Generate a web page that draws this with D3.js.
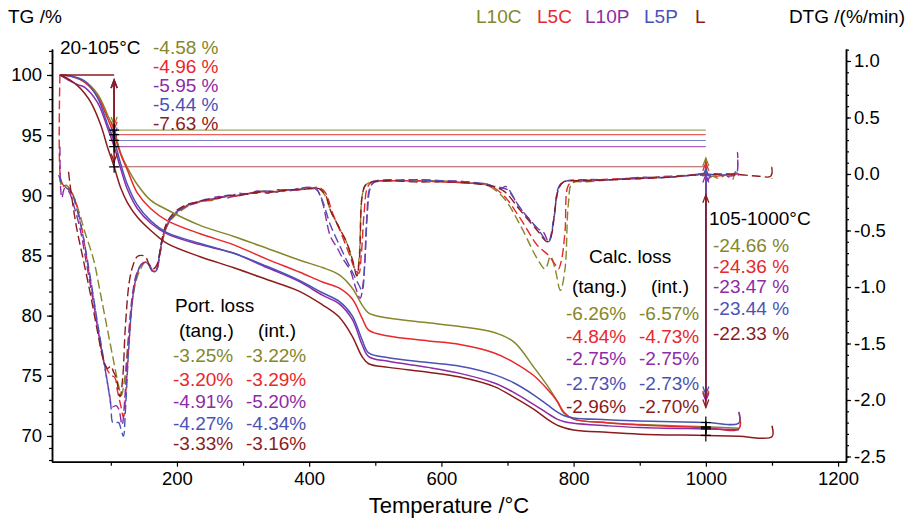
<!DOCTYPE html>
<html>
<head>
<meta charset="utf-8">
<script src="https://cdn.jsdelivr.net/npm/d3@7"></script>
<style>
  body { margin: 0; background: #fff; }
  svg { display: block; font-family: "Liberation Sans", Arial, sans-serif; }
</style>
</head>
<body>
<svg id="chart" width="918" height="521"></svg>
<script>
const series = ["L10C", "L5C", "L10P", "L5P", "L"];
const colors = ["#86862a", "#e8282b", "#8e2ba6", "#4b52b5", "#8b1c1c"];

// TG curves, [temperature, mass %]
const tgL10C = [[23,100],[40,99.9],[60,99.5],[80,98.4],[95,96.7],[105,95.42],[115,93.5],[125,92.3],[140,90.9],[160,89.6],[185,88.8],[235,87.5],[285,86.6],[336,85.6],[386,84.6],[420,84.0],[445,83.4],[465,82.3],[480,80.9],[490,80.2],[520,79.8],[580,79.4],[628,79.1],[680,78.6],[710,77.8],[740,75.7],[760,74.2],[775,72.9],[785,71.9],[800,71.4],[850,71.1],[900,70.95],[1000,70.76],[1050,70.65]];
const tgL5C = [[23,100],[40,99.9],[60,99.4],[80,98.2],[95,96.4],[105,95.04],[115,93.4],[125,92.1],[140,90.2],[160,88.9],[185,87.9],[235,86.8],[285,85.9],[336,84.7],[386,83.6],[420,82.8],[445,82.3],[465,81.4],[480,79.8],[490,78.8],[520,78.3],[580,77.9],[628,77.6],[680,76.9],[710,76.1],[740,75.0],[760,73.9],[775,72.9],[785,72.0],[800,71.4],[850,71.1],[900,70.9],[1000,70.68],[1050,70.6],[1050,72.0]];
const tgL10P = [[23,100],[35,99.6],[50,99.2],[60,99.0],[80,97.7],[95,95.6],[105,94.05],[115,92.2],[125,90.5],[140,88.9],[160,87.7],[185,86.8],[235,85.9],[285,85.2],[336,84.0],[386,82.8],[420,81.7],[445,81.0],[465,79.7],[480,77.6],[490,76.6],[520,76.2],[580,75.7],[628,75.2],[680,74.4],[710,73.6],[740,72.6],[760,71.9],[775,71.4],[785,71.2],[800,71.05],[850,70.85],[900,70.7],[1000,70.58],[1050,70.52]];
const tgL5P = [[23,100],[40,99.9],[60,99.5],[80,98.1],[95,95.9],[105,94.56],[115,92.6],[125,90.9],[140,89.2],[160,87.9],[185,86.9],[235,86.0],[285,85.2],[336,84.1],[386,82.9],[420,81.9],[445,81.2],[465,80.0],[480,78.0],[490,76.9],[520,76.5],[580,76.1],[628,75.8],[680,75.1],[710,74.4],[740,73.4],[760,72.6],[775,72.0],[785,71.7],[800,71.5],[850,71.35],[900,71.25],[1000,71.12],[1050,71.07],[1050,71.97]];
const tgL = [[23,100],[35,99.7],[50,99.1],[60,98.5],[70,97.7],[85,95.8],[95,94.0],[105,92.37],[115,90.6],[125,89.4],[140,88.2],[160,87.1],[185,86.0],[235,84.9],[285,84.0],[336,83.0],[386,82.0],[420,80.9],[445,79.9],[465,78.3],[480,76.6],[490,76.0],[520,75.7],[580,75.3],[628,74.9],[680,74.1],[710,73.2],[740,72.2],[760,71.4],[775,70.9],[785,70.7],[800,70.5],[850,70.3],[900,70.15],[1000,70.04],[1050,69.97],[1100,69.93],[1100,70.85]];

// DTG curves, [temperature, %/min]
const dtgL10C = [[23,-0.02],[26,-0.12],[32,-0.1],[40,-0.15],[50,-0.3],[60,-0.5],[74,-0.76],[84,-1.05],[94,-1.35],[104,-1.65],[112,-1.88],[116,-1.96],[120,-1.85],[126,-1.5],[132,-1.15],[138,-0.95],[145,-0.84],[152,-0.78],[157,-0.8],[163,-0.86],[168,-0.86],[174,-0.72],[180,-0.55],[186,-0.45],[195,-0.38],[210,-0.31],[225,-0.26],[240,-0.24],[255,-0.23],[270,-0.2],[285,-0.2],[300,-0.18],[315,-0.17],[330,-0.15],[345,-0.16],[360,-0.14],[375,-0.14],[390,-0.13],[405,-0.13],[415,-0.13],[425,-0.2],[432,-0.32],[445,-0.47],[457,-0.61],[466,-0.78],[472,-0.9],[476,-0.7],[480,-0.2],[485,-0.1],[495,-0.07],[520,-0.06],[560,-0.06],[600,-0.06],[640,-0.08],[669,-0.1],[694,-0.21],[719,-0.45],[745,-0.75],[757,-0.84],[765,-0.73],[772,-0.84],[780,-1.03],[787,-0.84],[792,-0.27],[798,-0.08],[820,-0.07],[860,-0.05],[900,-0.04],[940,-0.02],[980,-0.01],[998,0.0],[1000,0.12],[1002,-0.05],[1010,-0.02],[1020,-0.04],[1030,-0.01],[1040,-0.05],[1045,0.02],[1050,0.0]];
const dtgL5C = [[23,0.88],[24,-0.04],[28,-0.1],[35,-0.12],[45,-0.22],[55,-0.45],[65,-0.8],[75,-1.15],[84,-1.5],[92,-1.7],[100,-1.78],[106,-1.8],[110,-1.92],[115,-2.05],[119,-2.15],[123,-1.9],[128,-1.45],[134,-1.05],[140,-0.88],[147,-0.8],[153,-0.78],[158,-0.8],[164,-0.86],[169,-0.85],[175,-0.68],[182,-0.5],[190,-0.4],[200,-0.34],[215,-0.28],[230,-0.25],[250,-0.23],[265,-0.21],[280,-0.2],[295,-0.19],[310,-0.17],[325,-0.16],[340,-0.15],[355,-0.16],[370,-0.14],[385,-0.14],[400,-0.13],[415,-0.12],[425,-0.17],[435,-0.34],[448,-0.52],[460,-0.7],[470,-0.85],[475,-0.88],[479,-0.7],[483,-0.35],[488,-0.12],[495,-0.07],[520,-0.06],[560,-0.06],[600,-0.07],[640,-0.08],[669,-0.09],[694,-0.19],[719,-0.39],[745,-0.63],[762,-0.72],[772,-0.8],[777,-0.84],[782,-0.75],[787,-0.51],[792,-0.1],[800,-0.07],[840,-0.05],[880,-0.04],[920,-0.03],[960,-0.02],[1000,0.0],[1010,-0.02],[1030,-0.01],[1048,0.0]];
const dtgL10P = [[23,0.24],[24,-0.12],[26,-0.21],[30,-0.13],[36,-0.15],[44,-0.28],[54,-0.5],[64,-0.82],[74,-1.15],[84,-1.5],[92,-1.75],[98,-1.95],[102,-2.06],[108,-2.05],[112,-2.08],[117,-2.22],[121,-2.0],[126,-1.5],[132,-1.1],[138,-0.9],[146,-0.8],[152,-0.78],[157,-0.8],[163,-0.86],[168,-0.86],[174,-0.7],[180,-0.52],[188,-0.42],[198,-0.35],[212,-0.29],[228,-0.26],[245,-0.23],[262,-0.2],[278,-0.21],[292,-0.17],[308,-0.18],[322,-0.15],[338,-0.17],[352,-0.14],[368,-0.15],[382,-0.13],[398,-0.12],[410,-0.13],[419,-0.23],[432,-0.55],[442,-0.65],[452,-0.76],[462,-0.85],[470,-1.0],[477,-1.1],[482,-0.95],[487,-0.4],[491,-0.14],[497,-0.08],[520,-0.06],[560,-0.05],[600,-0.06],[640,-0.07],[669,-0.1],[690,-0.12],[700,-0.14],[719,-0.3],[745,-0.48],[755,-0.52],[762,-0.6],[770,-0.4],[777,-0.13],[785,-0.07],[820,-0.06],[860,-0.05],[900,-0.04],[940,-0.03],[980,-0.01],[1000,0.0],[1002,-0.06],[1010,0.0],[1030,-0.02],[1046,0.0],[1048,0.19],[1049,-0.01],[1050,0.0]];
const dtgL5P = [[21,-0.01],[26,-0.08],[32,-0.12],[40,-0.16],[48,-0.3],[58,-0.55],[68,-0.88],[78,-1.25],[88,-1.6],[95,-1.85],[100,-2.05],[103,-2.2],[108,-2.2],[112,-2.2],[115,-2.25],[119,-2.32],[122,-2.1],[127,-1.55],[133,-1.1],[139,-0.9],[146,-0.8],[152,-0.78],[157,-0.8],[163,-0.86],[168,-0.86],[174,-0.7],[180,-0.52],[188,-0.42],[198,-0.34],[214,-0.28],[230,-0.25],[246,-0.22],[260,-0.22],[275,-0.19],[290,-0.19],[305,-0.17],[320,-0.17],[335,-0.15],[350,-0.16],[365,-0.14],[380,-0.14],[395,-0.12],[410,-0.13],[419,-0.22],[432,-0.45],[445,-0.62],[458,-0.78],[468,-0.9],[475,-0.98],[480,-1.03],[484,-0.8],[488,-0.35],[492,-0.13],[498,-0.07],[520,-0.05],[540,-0.06],[560,-0.05],[600,-0.06],[640,-0.07],[669,-0.09],[690,-0.13],[697,-0.11],[719,-0.3],[745,-0.48],[762,-0.6],[770,-0.4],[777,-0.12],[785,-0.07],[820,-0.05],[860,-0.05],[900,-0.03],[940,-0.03],[980,-0.01],[1000,0.0],[1020,-0.01],[1048,0.01]];
const dtgL = [[36,0.02],[38,-0.08],[42,-0.25],[48,-0.47],[58,-0.75],[69,-1.06],[80,-1.4],[89,-1.65],[95,-1.72],[100,-1.7],[104,-1.75],[108,-1.8],[114,-1.97],[118,-1.8],[122,-1.35],[128,-0.95],[134,-0.8],[140,-0.73],[146,-0.72],[152,-0.73],[158,-0.8],[164,-0.84],[170,-0.8],[176,-0.62],[182,-0.47],[190,-0.38],[200,-0.32],[215,-0.27],[230,-0.25],[250,-0.22],[265,-0.21],[280,-0.19],[295,-0.19],[310,-0.17],[325,-0.16],[340,-0.16],[355,-0.15],[370,-0.14],[385,-0.14],[400,-0.13],[415,-0.13],[425,-0.19],[432,-0.32],[445,-0.47],[457,-0.61],[466,-0.77],[472,-0.9],[476,-0.75],[480,-0.2],[485,-0.1],[495,-0.07],[520,-0.06],[560,-0.07],[600,-0.07],[640,-0.08],[669,-0.1],[694,-0.15],[719,-0.32],[745,-0.5],[760,-0.6],[766,-0.55],[772,-0.3],[778,-0.12],[785,-0.07],[820,-0.06],[860,-0.05],[900,-0.04],[940,-0.03],[980,-0.01],[1000,-0.01],[1020,0.0],[1040,0.0],[1060,-0.01],[1080,-0.02],[1098,-0.02],[1100,0.06],[1100,-0.04]];

const tgData = [tgL10C, tgL5C, tgL10P, tgL5P, tgL];
const dtgData = [dtgL10C, dtgL5C, dtgL10P, dtgL5P, dtgL];

// step losses
const loss20to105 = [-4.58, -4.96, -5.95, -5.44, -7.63];
const loss105to1000 = [-24.66, -24.36, -23.47, -23.44, -22.33];
const portTang = ["-3.25%", "-3.20%", "-4.91%", "-4.27%", "-3.33%"];
const portInt = ["-3.22%", "-3.29%", "-5.20%", "-4.34%", "-3.16%"];
const calcTang = ["-6.26%", "-4.84%", "-2.75%", "-2.73%", "-2.96%"];
const calcInt = ["-6.57%", "-4.73%", "-2.75%", "-2.73%", "-2.70%"];

const tgMajor = [70, 75, 80, 85, 90, 95, 100];
const dtgMajor = [-2.5, -2.0, -1.5, -1.0, -0.5, 0.0, 0.5, 1.0];
const tempMajor = [200, 400, 600, 800, 1000, 1200];
const tempMinor = [100, 300, 500, 700, 900, 1100];

const W = 918, H = 521;
const margin = { top: 49, right: 72, bottom: 59.3, left: 52 };
const svg = d3.select("#chart");

const x = d3.scaleLinear().domain([11, 1212]).range([margin.left, W - margin.right]);
const yTG = d3.scaleLinear().domain([67.86, 102.16]).range([H - margin.bottom, margin.top]);
const yDTG = d3.scaleLinear().domain([-2.546, 1.106]).range([H - margin.bottom, margin.top]);

const fmtDtg = v => d3.format(".1f")(v).replace("\u2212", "-");

function styleAxis(g, size) {
  g.attr("font-family", null).attr("font-size", null);
  g.selectAll("text").style("font-size", size + "px").attr("fill", "#000");
  g.selectAll("line").attr("stroke", "#000").attr("stroke-width", 1.2);
  g.select(".domain").attr("stroke", "#000").attr("stroke-width", 1.5);
}

// minor ticks first, then the major ones with labels
svg.append("g").attr("transform", `translate(${margin.left},0)`)
  .call(d3.axisLeft(yTG).tickValues(d3.range(68, 103)).tickSize(3).tickSizeOuter(0).tickFormat(""))
  .call(g => styleAxis(g, 18.5));
svg.append("g").attr("transform", `translate(${margin.left},0)`)
  .call(d3.axisLeft(yTG).tickValues(tgMajor).tickSize(5).tickSizeOuter(0).tickPadding(5))
  .call(g => styleAxis(g, 18.5));

svg.append("g").attr("transform", `translate(${W - margin.right},0)`)
  .call(d3.axisRight(yDTG).tickValues(d3.range(-25, 12).map(d => d / 10)).tickSize(3).tickSizeOuter(0).tickFormat(""))
  .call(g => styleAxis(g, 18.5));
svg.append("g").attr("transform", `translate(${W - margin.right},0)`)
  .call(d3.axisRight(yDTG).tickValues(dtgMajor).tickSize(5).tickSizeOuter(0).tickPadding(3).tickFormat(fmtDtg))
  .call(g => styleAxis(g, 18.5));

svg.append("g").attr("transform", `translate(0,${H - margin.bottom})`)
  .call(d3.axisBottom(x).tickValues(tempMinor).tickSize(4).tickSizeOuter(0).tickFormat(""))
  .call(g => styleAxis(g, 18.5));
svg.append("g").attr("transform", `translate(0,${H - margin.bottom})`)
  .call(d3.axisBottom(x).tickValues(tempMajor).tickSize(5).tickSizeOuter(0).tickPadding(5).tickFormat(d3.format("d")))
  .call(g => styleAxis(g, 18.5));

// titles
svg.append("text").attr("x", 449).attr("y", 513).attr("text-anchor", "middle")
  .style("font-size", "22px").text("Temperature /°C");
svg.append("text").attr("x", 8).attr("y", 23).style("font-size", "19px").text("TG /%");
svg.append("text").attr("x", 905).attr("y", 23).attr("text-anchor", "end").style("font-size", "19px").text("DTG /(%/min)");

const legendX = [476, 537, 585, 644, 695];
svg.append("g").selectAll("text").data(series).join("text")
  .attr("x", (d, i) => legendX[i]).attr("y", 23)
  .attr("fill", (d, i) => colors[i]).style("font-size", "19px").text(d => d);

const plot = svg.append("g");

const tgLine = d3.line().x(d => x(d[0])).y(d => yTG(d[1])).curve(d3.curveCatmullRom.alpha(0.5));
const dtgLine = d3.line().x(d => x(d[0])).y(d => yDTG(d[1])).curve(d3.curveCatmullRom.alpha(0.5));

// loss level lines from 105 to 1000 °C
const levels = loss20to105.map(v => 100 + v);
const finals = loss20to105.map((v, i) => 100 + v + loss105to1000[i]);

plot.selectAll("line.level").data(levels).join("line")
  .attr("class", "level")
  .attr("x1", x(105)).attr("x2", x(1000))
  .attr("y1", d => yTG(d)).attr("y2", d => yTG(d))
  .attr("stroke", (d, i) => colors[i]).attr("stroke-opacity", 0.75).attr("stroke-width", 1.1);

// dashed DTG
plot.selectAll("path.dtg").data(dtgData).join("path")
  .attr("class", "dtg")
  .attr("d", dtgLine)
  .attr("fill", "none")
  .attr("stroke", (d, i) => colors[i])
  .attr("stroke-width", 1.4)
  .attr("stroke-dasharray", "9,4");

// solid TG
plot.selectAll("path.tg").data(tgData).join("path")
  .attr("class", "tg")
  .attr("d", tgLine)
  .attr("fill", "none")
  .attr("stroke", (d, i) => colors[i])
  .attr("stroke-width", 1.5);

// 100 % reference from start to 105 °C
plot.append("line")
  .attr("x1", x(23)).attr("x2", x(105))
  .attr("y1", yTG(100)).attr("y2", yTG(100))
  .attr("stroke", colors[4]).attr("stroke-width", 1.6);

function arrow(g, xp, y1, y2, color) {
  g.append("line").attr("x1", xp).attr("x2", xp).attr("y1", y1).attr("y2", y2)
    .attr("stroke", color).attr("stroke-width", 1.6);
  const head = (yt, dir) => g.append("path")
    .attr("d", `M${xp - 3},${yt + dir * 8}L${xp},${yt}L${xp + 3},${yt + dir * 8}`)
    .attr("fill", "none").attr("stroke", color).attr("stroke-width", 1.3);
  head(y1, 1);
  head(y2, -1);
}

const arrows = plot.append("g");
levels.forEach((lv, i) => arrow(arrows, x(105), yTG(100) + 5, yTG(lv) - 5, colors[i]));
levels.forEach((lv, i) => arrow(arrows, x(1000), yTG(lv) + 28, yTG(finals[i]) - 28, colors[i]));

// cross markers
function cross(g, xp, yp) {
  g.append("path").attr("d", `M${xp - 5},${yp}H${xp + 5}M${xp},${yp - 6}V${yp + 6}`)
    .attr("stroke", "#000").attr("stroke-width", 1.2);
}
const marks = plot.append("g");
levels.forEach(lv => cross(marks, x(105), yTG(lv)));
finals.forEach(fv => cross(marks, x(1000), yTG(fv)));

// annotation texts
const ann = svg.append("g").style("font-size", "19px");
ann.append("text").attr("x", 60).attr("y", 54).text("20-105°C");
ann.selectAll("text.low").data(loss20to105).join("text").attr("class", "low")
  .attr("x", 153).attr("y", (d, i) => 53.5 + i * 19)
  .attr("fill", (d, i) => colors[i]).text(d => d.toFixed(2) + " %");

ann.append("text").attr("x", 709).attr("y", 225).text("105-1000°C");
ann.selectAll("text.high").data(loss105to1000).join("text").attr("class", "high")
  .attr("x", 713).attr("y", (d, i) => [251.7, 272.7, 293.3, 315, 340][i])
  .attr("fill", (d, i) => colors[i]).text(d => d.toFixed(2) + " %");

ann.append("text").attr("x", 589).attr("y", 263).text("Calc. loss");
ann.append("text").attr("x", 572).attr("y", 293).text("(tang.)");
ann.append("text").attr("x", 651).attr("y", 293).text("(int.)");
const calcY = [320, 343.3, 365, 390, 412.7];
ann.selectAll("text.ct").data(calcTang).join("text").attr("class", "ct")
  .attr("x", 566).attr("y", (d, i) => calcY[i]).attr("fill", (d, i) => colors[i]).text(d => d);
ann.selectAll("text.ci").data(calcInt).join("text").attr("class", "ci")
  .attr("x", 639).attr("y", (d, i) => calcY[i]).attr("fill", (d, i) => colors[i]).text(d => d);

ann.append("text").attr("x", 175).attr("y", 311.7).text("Port. loss");
ann.append("text").attr("x", 179).attr("y", 336.7).text("(tang.)");
ann.append("text").attr("x", 258).attr("y", 336.7).text("(int.)");
const portY = [361.7, 386, 408.3, 430, 450];
ann.selectAll("text.pt").data(portTang).join("text").attr("class", "pt")
  .attr("x", 173).attr("y", (d, i) => portY[i]).attr("fill", (d, i) => colors[i]).text(d => d);
ann.selectAll("text.pi").data(portInt).join("text").attr("class", "pi")
  .attr("x", 246).attr("y", (d, i) => portY[i]).attr("fill", (d, i) => colors[i]).text(d => d);
</script>
</body>
</html>
